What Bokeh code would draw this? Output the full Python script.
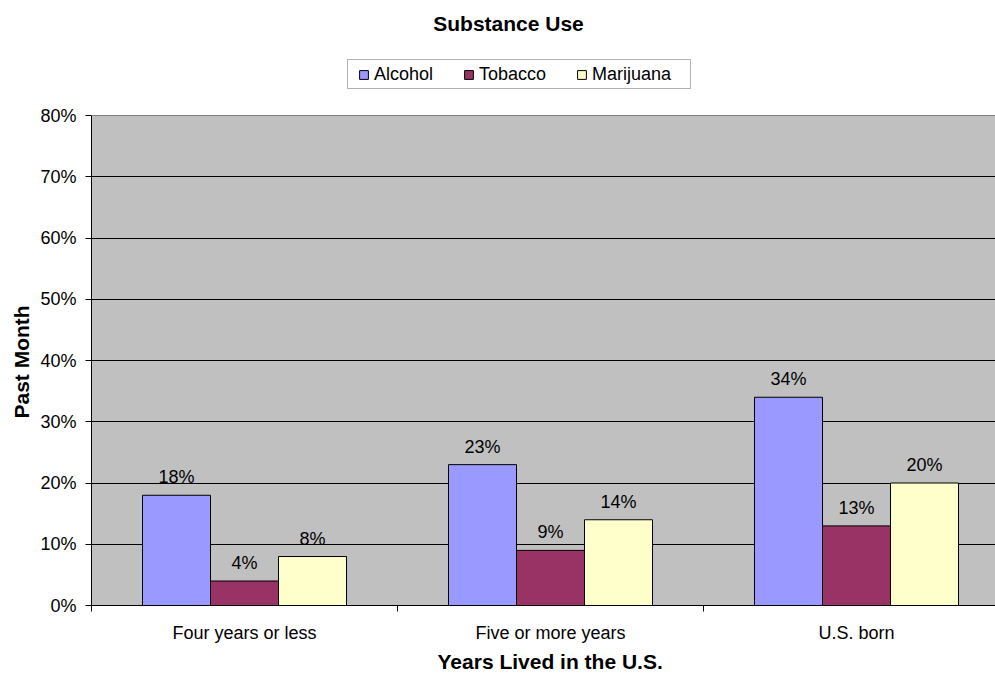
from bokeh.plotting import figure
from bokeh.models import (Range1d, FixedTicker, Legend, LegendItem, Title,
                          Label, BoxAnnotation)
from bokeh.embed import file_html
from bokeh.resources import INLINE
from bokeh.core.properties import value

# --- data -------------------------------------------------------------
groups = ["Four years or less", "Five or more years", "U.S. born"]
series = ["Alcohol", "Tobacco", "Marijuana"]
alcohol = [18, 23, 34]
tobacco = [4, 9, 13]
marijuana = [8, 14, 20]
y_ticks = [0, 10, 20, 30, 40, 50, 60, 70, 80]

values = [alcohol, tobacco, marijuana]
colors = ["#9999FF", "#993366", "#FFFFCC"]

FONT = "Liberation Sans"

# --- layout geometry (pixels) ----------------------------------------
W, H = 995, 675
LEFT, TOP, BOTTOM = 91, 115, 605    # plot area edges on the page
CAT_PX = 306.0                      # width of one category slot
PCT_PX = (BOTTOM - TOP) / 80.0      # pixels per percentage point
Y_MAX = 80


def px_x(px):
    return (px - LEFT) / CAT_PX


def px_y(py):
    return (BOTTOM - py) / PCT_PX


# the frame reaches the top of the page so that the title and the legend
# can live inside it; the grey plot area is drawn from 0 to 80 %
p = figure(width=W, height=H, output_backend="svg", toolbar_location=None,
           title=None,
           x_range=Range1d(0, px_x(W)), y_range=Range1d(0, px_y(0)),
           min_border_left=LEFT, min_border_right=0,
           min_border_top=0, min_border_bottom=H - BOTTOM)

p.background_fill_color = "white"
p.border_fill_color = "white"
p.outline_line_color = None
p.xgrid.visible = False
p.ygrid.visible = False

# grey plot area, gridlines and its top edge
p.quad(left=0, right=px_x(W) + 1, bottom=0, top=Y_MAX,
       fill_color="#C0C0C0", line_color=None)
p.hspan(y=[t for t in y_ticks if 0 < t < Y_MAX], line_color="black",
        line_width=1)
p.hspan(y=[Y_MAX], line_color="#808080", line_width=1)

# --- bars ---------------------------------------------------------------
bar_w = 68 / CAT_PX
renderers = []
for j, (name, vals, col) in enumerate(zip(series, values, colors)):
    xs = [i + 0.5 + (j - 1) * bar_w for i in range(len(groups))]
    r = p.vbar(x=xs, top=vals, width=bar_w, bottom=0,
               fill_color=col, line_color="black", line_width=1)
    renderers.append(r)
    p.text(x=xs, y=vals, text=[f"{v}%" for v in vals],
           text_align="center", text_baseline="alphabetic", y_offset=-18,
           text_font=value(FONT), text_font_size="18px", text_color="black")

# --- axes -------------------------------------------------------------
yax = p.yaxis[0]
yax.bounds = (0, Y_MAX)
yax.ticker = FixedTicker(ticks=y_ticks)
yax.major_label_overrides = {t: f"{t}%" for t in y_ticks}
yax.major_tick_out = 6
yax.major_tick_in = 0
yax.minor_tick_line_color = None
yax.axis_line_color = "black"
yax.major_tick_line_color = "black"
yax.major_label_standoff = 9
yax.major_label_text_font = FONT
yax.major_label_text_font_size = "18px"
yax.major_label_text_color = "black"

xax = p.xaxis[0]
xax.ticker = FixedTicker(ticks=[i + 0.5 for i in range(len(groups))],
                         minor_ticks=list(range(len(groups) + 1)))
xax.major_label_overrides = {i + 0.5: g for i, g in enumerate(groups)}
xax.major_tick_out = 0
xax.major_tick_in = 0
xax.minor_tick_out = 6
xax.minor_tick_in = 0
xax.minor_tick_line_color = "black"
xax.axis_line_color = "black"
xax.major_label_standoff = 11
xax.major_label_text_font = FONT
xax.major_label_text_font_size = "18px"
xax.major_label_text_color = "black"

# --- titles -----------------------------------------------------------
p.add_layout(Label(x=px_x(508), y=px_y(23), text="Substance Use",
                   text_align="center", text_baseline="alphabetic",
                   text_font=FONT, text_font_size="21px",
                   text_font_style="bold", text_color="black"))

# y title: start of the text measured up from the frame bottom so that it
# sits centred on the grey plot area
p.add_layout(Title(text="Past Month", align="left", offset=187,
                   standoff=10,
                   text_font=FONT, text_font_size="21px",
                   text_font_style="bold", text_color="black"), "left")

# x title: start of the text measured from the frame's left edge
p.add_layout(Title(text="Years Lived in the U.S.", align="left", offset=346,
                   standoff=4, text_font=FONT, text_font_size="21px",
                   text_font_style="bold", text_color="black"), "below")

# --- legend -------------------------------------------------------------
p.add_layout(BoxAnnotation(left=px_x(347), right=px_x(690),
                           top=px_y(59), bottom=px_y(88),
                           fill_color="white", fill_alpha=1,
                           line_color="black", line_width=1))
legend = Legend(items=[LegendItem(label=s, renderers=[r])
                       for s, r in zip(series, renderers)],
                orientation="horizontal",
                location=(363 - 5 - LEFT, BOTTOM - 85),
                margin=0, padding=5, spacing=30,
                glyph_width=11, glyph_height=11, label_standoff=5,
                label_text_font=FONT, label_text_font_size="18px",
                label_text_color="black",
                background_fill_alpha=0, border_line_color=None)
p.add_layout(legend)

open("out.html", "w").write(file_html(p, INLINE))
